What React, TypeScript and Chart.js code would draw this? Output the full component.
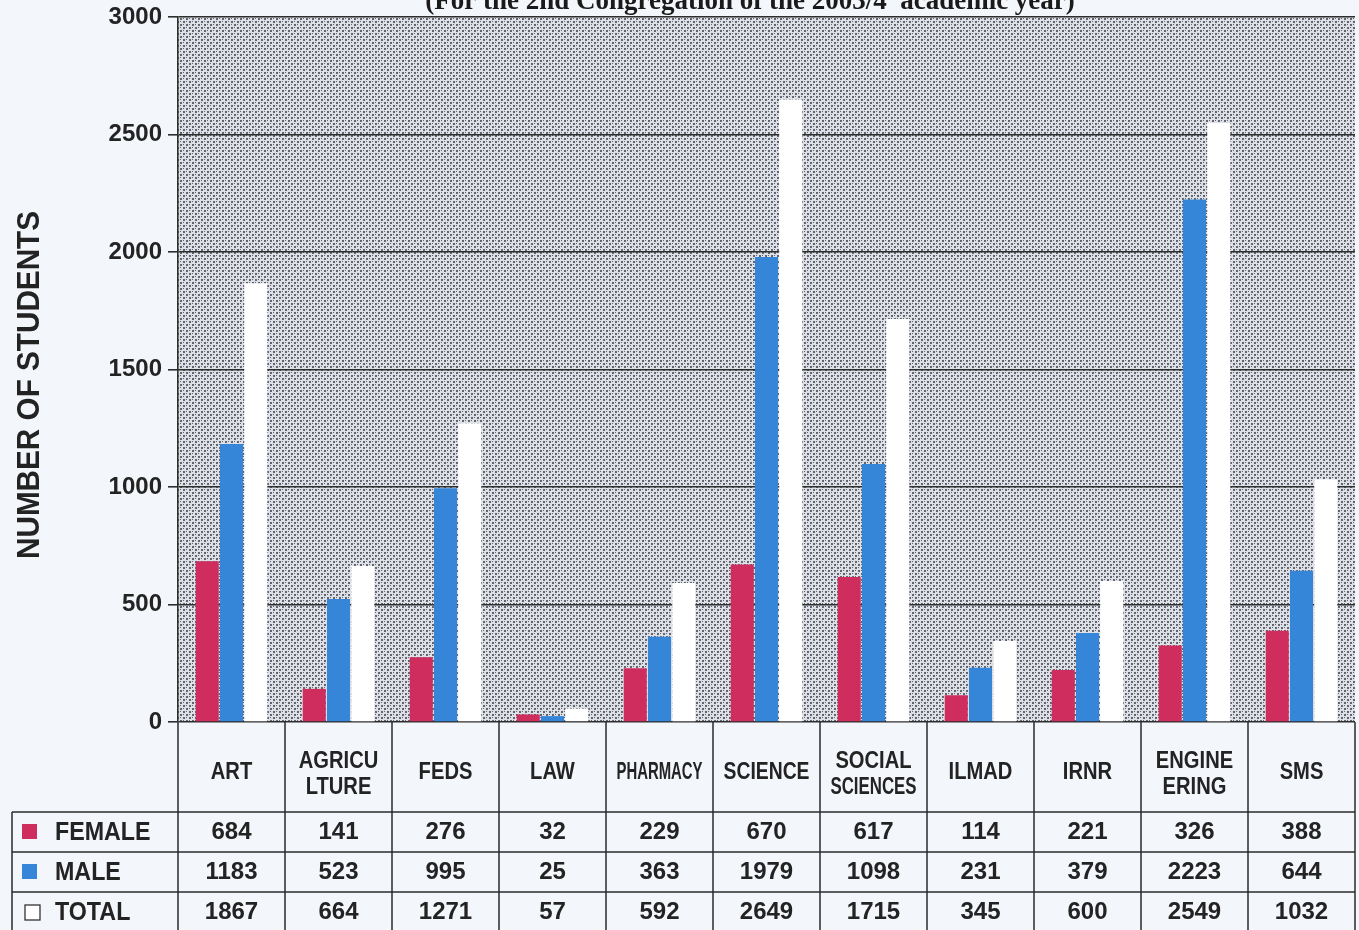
import React, { useEffect, useRef } from "react";
import { Chart, registerables } from "chart.js";
Chart.register(...registerables);

const categories: string[][] = [
  ["ART"], ["AGRICU", "LTURE"], ["FEDS"], ["LAW"], ["PHARMACY"], ["SCIENCE"],
  ["SOCIAL", "SCIENCES"], ["ILMAD"], ["IRNR"], ["ENGINE", "ERING"], ["SMS"],
];
const female = [684, 141, 276, 32, 229, 670, 617, 114, 221, 326, 388];
const male = [1183, 523, 995, 25, 363, 1979, 1098, 231, 379, 2223, 644];
const total = [1867, 664, 1271, 57, 592, 2649, 1715, 345, 600, 2549, 1032];
const seriesNames = ["FEMALE", "MALE", "TOTAL"];
const seriesColors = ["#cf2d5e", "#3585d8", "#ffffff"];
const yMin = 0;
const yMax = 3000;
const yStep = 500;
const chartTitle = "(For the 2nd Congregation of the 2003/4  academic year)";
const yTitle = "NUMBER OF STUDENTS";

const SANS = "'Liberation Sans', Arial, sans-serif";
const INK = "#232323";

function makePattern(ctx: CanvasRenderingContext2D) {
  const c = document.createElement("canvas");
  c.width = 6;
  c.height = 6;
  const p = c.getContext("2d")!;
  p.fillStyle = "#dde0e6";
  p.fillRect(0, 0, 6, 6);
  p.fillStyle = "#62656e";
  p.fillRect(0, 0, 2, 2);
  p.fillRect(3, 3, 2, 2);
  p.fillRect(3, 0, 1, 1);
  p.fillRect(0, 3, 1, 1);
  return ctx.createPattern(c, "repeat")!;
}

const tablePlugin = {
  id: "tablePlugin",
  beforeDraw(chart: any) {
    const { ctx, chartArea: a, width, height } = chart;
    ctx.save();
    ctx.fillStyle = "#f3f6fb";
    ctx.fillRect(0, 0, width, height);
    ctx.fillStyle = makePattern(ctx);
    ctx.fillRect(a.left, a.top, a.right - a.left, a.bottom - a.top);
    ctx.restore();
  },
  afterDraw(chart: any) {
    const { ctx, chartArea: a, height } = chart;
    const xs = chart.scales.x;
    const n = categories.length;
    const half = (xs.getPixelForValue(1) - xs.getPixelForValue(0)) / 2;
    const headerBottom = a.bottom + 90;
    const rowH = 40;
    const tableLeft = 12;

    ctx.save();
    ctx.strokeStyle = "#2a2a2a";
    ctx.lineWidth = 1.5;
    for (let i = 0; i <= n; i++) {
      const x = i < n ? xs.getPixelForValue(i) - half : xs.getPixelForValue(n - 1) + half;
      ctx.beginPath();
      ctx.moveTo(x, a.bottom);
      ctx.lineTo(x, height);
      ctx.stroke();
    }
    ctx.beginPath();
    ctx.moveTo(tableLeft, headerBottom);
    ctx.lineTo(tableLeft, height);
    ctx.stroke();
    for (let r = 0; r < 3; r++) {
      const y = headerBottom + r * rowH;
      ctx.beginPath();
      ctx.moveTo(tableLeft, y);
      ctx.lineTo(a.right, y);
      ctx.stroke();
    }

    // header labels (condensed)
    ctx.fillStyle = INK;
    ctx.textAlign = "center";
    ctx.textBaseline = "middle";
    ctx.font = `bold 24px ${SANS}`;
    categories.forEach((lines, i) => {
      const cx = xs.getPixelForValue(i);
      const ys = lines.length === 1 ? [a.bottom + 50] : [a.bottom + 39, a.bottom + 65];
      lines.forEach((t, k) => {
        const w = ctx.measureText(t).width;
        const sx = Math.min(0.84, 86 / w);
        ctx.save();
        ctx.translate(cx, ys[k]);
        ctx.scale(sx, 1);
        ctx.fillText(t, 0, 0);
        ctx.restore();
      });
    });

    // rows
    const rows = [female, male, total];
    rows.forEach((vals, r) => {
      const cy = headerBottom + r * rowH + 20;
      ctx.font = `bold 24px ${SANS}`;
      ctx.textAlign = "center";
      ctx.fillStyle = INK;
      vals.forEach((v, i) => {
        ctx.fillText(String(v), xs.getPixelForValue(i), cy);
      });
      if (r < 2) {
        ctx.fillStyle = seriesColors[r];
        ctx.fillRect(22, cy - 8, 15, 15);
      } else {
        ctx.fillStyle = "#ffffff";
        ctx.fillRect(25, cy - 7, 15, 15);
        ctx.strokeStyle = "#333";
        ctx.lineWidth = 1.3;
        ctx.strokeRect(25, cy - 7, 15, 15);
      }
      ctx.fillStyle = INK;
      ctx.textAlign = "left";
      ctx.font = `bold 25px ${SANS}`;
      ctx.save();
      ctx.translate(55, cy + 1);
      ctx.scale(0.93, 1);
      ctx.fillText(seriesNames[r], 0, 0);
      ctx.restore();
    });

    // y axis title
    ctx.save();
    ctx.font = `bold 31px ${SANS}`;
    const tw = ctx.measureText(yTitle).width;
    ctx.translate(30, a.top + 368);
    ctx.rotate(-Math.PI / 2);
    ctx.scale(348 / tw, 1);
    ctx.textAlign = "center";
    ctx.textBaseline = "middle";
    ctx.fillStyle = INK;
    ctx.fillText(yTitle, 0, 0);
    ctx.restore();

    // chart title (cut at top)
    ctx.font = `bold 27px 'Liberation Serif', 'Times New Roman', serif`;
    ctx.textAlign = "center";
    ctx.textBaseline = "alphabetic";
    ctx.fillStyle = "#1a1a1a";
    ctx.fillText(chartTitle, a.left + 572, 9);
    ctx.restore();
  },
};

export default function App() {
  const ref = useRef<HTMLCanvasElement | null>(null);
  useEffect(() => {
    if (!ref.current) return;
    const chart = new Chart(ref.current, {
      type: "bar",
      data: {
        labels: categories.map((c) => c.join("")),
        datasets: [female, male, total].map((d, i) => ({
          label: seriesNames[i],
          data: d,
          backgroundColor: seriesColors[i],
          borderWidth: 0,
          categoryPercentage: 0.68,
          barPercentage: 0.95,
        })),
      },
      options: {
        responsive: false,
        animation: false,
        layout: { padding: { left: 0, top: 17, right: 4, bottom: 208 } },
        plugins: {
          legend: { display: false },
          tooltip: { enabled: false },
          title: { display: false },
        },
        scales: {
          x: { display: false, grid: { display: false } },
          y: {
            min: yMin,
            max: yMax,
            ticks: {
              stepSize: yStep,
              color: INK,
              padding: 6,
              font: { family: SANS, size: 24, weight: "bold" },
              callback: (v: any) => String(v),
            },
            grid: { color: "#2e2e2e", lineWidth: 1.6, tickLength: 10, drawTicks: true },
            border: { display: true, color: "#2e2e2e", width: 1.6 },
            afterFit: (axis: any) => {
              axis.width = 178;
              axis.paddingTop = 0;
              axis.paddingBottom = 0;
            },
          },
        },
      },
      plugins: [tablePlugin],
    } as any);
    return () => chart.destroy();
  }, []);
  return (
    <div style={{ position: "fixed", left: 0, top: 0, width: 1359, height: 930 }}>
      <canvas ref={ref} width={1359} height={930} style={{ display: "block" }} />
    </div>
  );
}
